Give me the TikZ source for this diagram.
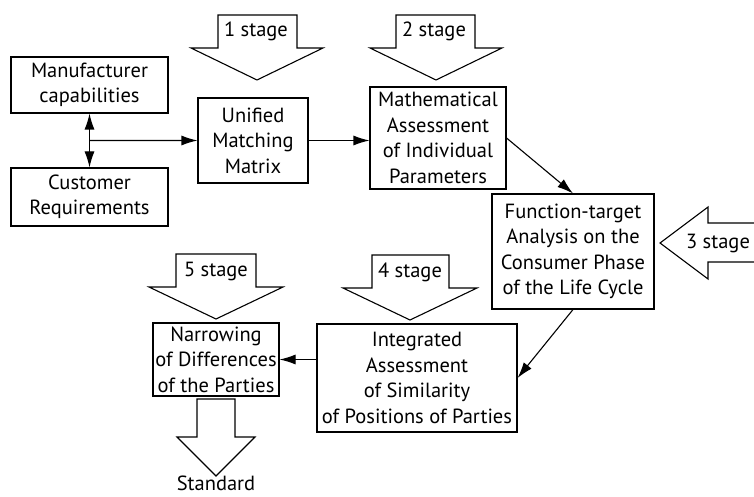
\documentclass[tikz,border=0pt]{standalone}
\usepackage{fontspec}
\setmainfont{PT Sans}
\usetikzlibrary{arrows.meta, calc}

\tikzset{
  box/.style={draw, line width=1.1pt, align=center, inner sep=1pt,
    font=\fontsize{20.5}{25.5}\selectfont},
  arr/.style={line width=1.1pt, -{Latex[length=16pt, width=10pt]}},
  blockarrow/.style={draw, line width=1.1pt, line join=miter},
  stagelabel/.style={font=\fontsize{20.5}{25.5}\selectfont, inner sep=0pt}
}

\begin{document}
\begin{tikzpicture}[x=1pt, y=-1pt]
  \useasboundingbox (0,0) rectangle (754,497);
  % Boxes
  \node[box, minimum width=157pt, minimum height=56pt] (manuf) at (89.5,85) {Manufacturer\\capabilities};
  \node[box, minimum width=157pt, minimum height=58pt] (cust) at (89.5,197) {Customer\\Requirements};
  \node[box, minimum width=110pt, minimum height=85pt] (unified) at (253,140.5) {Unified\\Matching\\Matrix};
  \node[box, minimum width=136pt, minimum height=102pt] (math) at (438,138) {Mathematical\\Assessment\\of Individual\\Parameters};
  \node[box, minimum width=162pt, minimum height=115pt] (func) at (573,251.5) {Function-target\\Analysis on the\\Consumer Phase\\of the Life Cycle};
  \node[box, minimum width=200pt, minimum height=108pt] (integr) at (417,378) {Integrated\\Assessment\\of Similarity\\of Positions of Parties};
  \node[box, minimum width=126pt, minimum height=73pt] (narrow) at (216,359.5) {Narrowing\\of Differences\\of the Parties};
  % Connectors
  \draw[line width=1.1pt, {Latex[length=16pt, width=10pt]}-{Latex[length=16pt, width=10pt]}] (manuf.south) -- (cust.north);
  \coordinate (branch) at ($(manuf.south)!0.5!(cust.north)$);
  \draw[arr] (branch) -- (unified.west);
  \draw[arr] (unified.east) -- (unified.east -| math.west);
  \draw[arr] (math.east) -- (func.north);
  \draw[arr] (func.south) -- (integr.east);
  \draw[arr] (integr.west |- narrow.east) -- (narrow.east);
  % Stage arrows
  \draw[blockarrow] (218,15) -- (297,15) -- (297,48) -- (323,48) -- (257,80) -- (191,48) -- (218,48) -- cycle;
  \node[stagelabel] (s1) at (256,31) {1 stage};
  \draw[blockarrow] (396,15) -- (475,15) -- (475,48) -- (502,48) -- (436,80) -- (370,48) -- (396,48) -- cycle;
  \node[stagelabel] (s2) at (434,31) {2 stage};
  \draw[blockarrow] (755,223) -- (708,223) -- (708,207) -- (660,243) -- (708,279) -- (708,262) -- (755,262);
  \node[stagelabel] (s3) at (718,243) {3 stage};
  \draw[blockarrow] (372,255) -- (449,255) -- (449,288) -- (477,288) -- (410,320) -- (343,288) -- (372,288) -- cycle;
  \node[stagelabel] (s4) at (410,272) {4 stage};
  \draw[blockarrow] (176,254) -- (256,254) -- (256,287) -- (283,287) -- (216,319) -- (149,287) -- (176,287) -- cycle;
  \node[stagelabel] (s5) at (216,271) {5 stage};
  % Output
  \draw[blockarrow] (197,399) -- (235,399) -- (235,437) -- (255,437) -- (216,476) -- (177,437) -- (197,437) -- cycle;
  \node[stagelabel, anchor=base] (std) at (216,490) {Standard};
\end{tikzpicture}
\end{document}
